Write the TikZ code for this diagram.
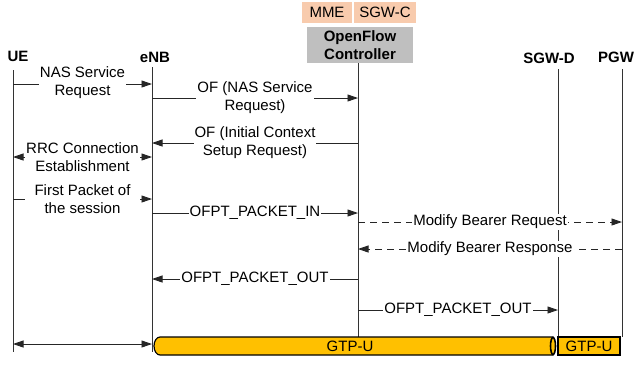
\documentclass[tikz,border=0pt]{standalone}
\usepackage{fontspec}
\setmainfont{Liberation Sans}
\usetikzlibrary{arrows.meta}
\definecolor{mmeorange}{RGB}{248,203,173}
\definecolor{ctrlgray}{RGB}{191,191,191}
\definecolor{gtpyellow}{RGB}{255,192,0}

\begin{document}
\begin{tikzpicture}[x=1pt,y=-1pt,
  font=\fontsize{15}{18}\selectfont,
  ent/.style={font=\fontsize{15}{18}\selectfont\bfseries},
  hdr/.style={inner sep=0pt, align=center},
  life/.style={line width=0.7pt, black!80},
  msg/.style={line width=0.9pt, black!85, -{Triangle[length=10.5pt,width=7pt]}},
  bimsg/.style={msg, {Triangle[length=10.5pt,width=7pt]}-{Triangle[length=10.5pt,width=7pt]}},
  dmsg/.style={msg, dash pattern=on 7pt off 5pt},
  lbl/.style={fill=white, inner sep=1pt, align=center, text=black}]
\useasboundingbox (0,0) rectangle (634,365);

% entities
\node[hdr, fill=mmeorange, minimum width=50pt, minimum height=21pt] (mme) at (327,12.5) {MME};
\node[hdr, fill=mmeorange, minimum width=62pt, minimum height=21pt] (sgwc) at (385,12.5) {SGW-C};
\node[hdr, ent, fill=ctrlgray, minimum width=106pt, minimum height=36pt] (ofc) at (360,45) {OpenFlow\\Controller};
\node[ent] (ue) at (18,56) {UE};
\node[ent] (enb) at (155,57) {eNB};
\node[ent] (sgwd) at (549,58) {SGW-D};
\node[ent] (pgw) at (616,57) {PGW};

% lifelines
\coordinate (ueT) at (13,70);   \coordinate (ueB) at (13,352);
\coordinate (enbT) at (152,67); \coordinate (enbB) at (152,352);
\coordinate (ofcT) at (358,63); \coordinate (ofcB) at (358,337);
\coordinate (sgwdT) at (558,69); \coordinate (sgwdB) at (558,337);
\coordinate (pgwT) at (622,69); \coordinate (pgwB) at (622,337);
\draw[life] (ueT) -- (ueB);
\draw[life] (enbT) -- (enbB);
\draw[life] (ofcT) -- (ofcB);
\draw[life] (sgwdT) -- (sgwdB);
\draw[life] (pgwT) -- (pgwB);

% message rows
\coordinate (r1) at (0,84);
\coordinate (r2) at (0,98);
\coordinate (r3) at (0,143);
\coordinate (r4) at (0,157);
\coordinate (r5) at (0,199);
\coordinate (r6) at (0,213);
\coordinate (r7) at (0,222);
\coordinate (r8) at (0,249);
\coordinate (r9) at (0,279);
\coordinate (r10) at (0,310);
\coordinate (r11) at (0,344);

\draw[msg] (ueT |- r1) -- node[lbl, yshift=1.5pt] {NAS Service\\Request} (enbT |- r1);
\draw[msg] (enbT |- r2) -- node[lbl] {OF (NAS Service\\Request)} (ofcT |- r2);
\draw[msg] (ofcT |- r3) -- node[lbl] {OF (Initial Context\\Setup Request)} (enbT |- r3);
\draw[bimsg] (ueT |- r4) -- node[lbl] {RRC Connection\\Establishment} (enbT |- r4);
\draw[msg] (ueT |- r5) -- node[lbl, inner xsep=10pt] {First Packet of\\the session} (enbT |- r5);
\draw[msg] (enbT |- r6) -- node[lbl] {OFPT\_PACKET\_IN} (ofcT |- r6);
\draw[dmsg] (ofcT |- r7) -- node[lbl] {Modify Bearer Request} (pgwT |- r7);
\draw[dmsg] (pgwT |- r8) -- node[lbl] {Modify Bearer Response} (ofcT |- r8);
\draw[msg] (ofcT |- r9) -- node[lbl] {OFPT\_PACKET\_OUT} (enbT |- r9);
\draw[msg] (ofcT |- r10) -- node[lbl] {OFPT\_PACKET\_OUT} (sgwdT |- r10);
\draw[bimsg] (ueT |- r11) -- (enbT |- r11);

% GTP-U tunnels
\filldraw[fill=gtpyellow, draw=black, line width=1.2pt]
  (553,337) -- (160,337) arc[start angle=270, end angle=90, x radius=6, y radius=9]
  -- (553,355) -- cycle;
\filldraw[fill=gtpyellow, draw=black, line width=1.6pt] (553,346) ellipse[x radius=2.5, y radius=8.5];
\node[inner sep=0pt] (gtp1) at (350,346) {GTP-U};
\filldraw[fill=gtpyellow, draw=black, line width=1.2pt] (558,337) rectangle (620,355);
\node[inner sep=0pt] (gtp2) at (589,346) {GTP-U};
\end{tikzpicture}
\end{document}
